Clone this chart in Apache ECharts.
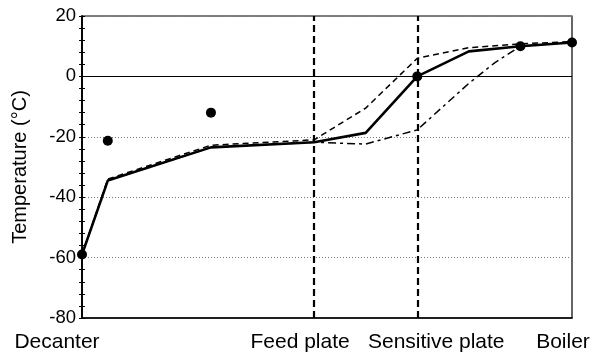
<!DOCTYPE html>
<html>
<head>
<meta charset="utf-8">
<script src="https://cdn.jsdelivr.net/npm/echarts@6/dist/echarts.min.js"></script>
<style>
  html, body { margin: 0; padding: 0; background: #fff; }
  #chart { width: 593px; height: 354px; }
</style>
</head>
<body>
<div id="chart"></div>
<script>
// Column stages, counted from the decanter (0) to the boiler (19)
const stageLabels = { 0: 'Decanter', 9: 'Feed plate', 13: 'Sensitive plate', 19: 'Boiler' };
const feedStage = 9;
const sensitiveStage = 13;

// Nominal temperature profile (solid)
const nominalStages = [0, 1, 5, 9, 11, 13, 15, 17, 19];
const nominalTemps  = [-59, -34.5, -23.5, -21.8, -18.7, 0, 8.3, 10, 11.2];

// Profile shifted towards the top (dashed)
const upperStages = [0, 1, 5, 9, 11, 13, 15, 17, 19];
const upperTemps  = [-59, -34, -22.8, -21, -10.5, 6, 9.5, 10.8, 11.5];

// Profile shifted towards the bottom (dash-dot)
const lowerStages = [0, 1, 5, 9, 11, 13, 14, 15, 16, 17, 19];
const lowerTemps  = [-59, -34.5, -23.5, -21.8, -22.4, -17.7, -10, -2.3, 4.5, 10, 11.3];

// Measured temperatures
const measuredStages = [0, 1, 5, 13, 17, 19];
const measuredTemps  = [-59, -21.3, -12, 0, 10, 11.2];

const yTicks = [-80, -60, -40, -20, 0, 20];

const zip = (xs, ys) => xs.map((x, i) => [x, ys[i]]);
const font = 'Liberation Sans, Arial, Helvetica, sans-serif';
const stageFont = 21;

const chart = echarts.init(document.getElementById('chart'));

const yBase = {
  type: 'value',
  min: yTicks[0],
  max: yTicks[yTicks.length - 1],
  interval: 20,
  axisLine: { show: true, onZero: false, lineStyle: { color: '#000', width: 1.5 } }
};

const stageStyle = pad => ({ fontFamily: font, fontSize: stageFont, color: '#000', padding: pad });

chart.setOption({
  animation: false,
  backgroundColor: '#fff',
  grid: {
    left: 82, right: 21, top: 16, bottom: 36,
    show: true, borderColor: '#000', borderWidth: 1.2, backgroundColor: 'transparent'
  },
  xAxis: {
    type: 'value',
    min: 0, max: 19, interval: 1,
    axisLine: { show: true, onZero: false, lineStyle: { color: '#000', width: 1.5 } },
    axisTick: { show: false },
    splitLine: { show: false },
    axisLabel: {
      showMinLabel: true, showMaxLabel: true,
      margin: 14,
      color: '#000', fontFamily: font, fontSize: stageFont,
      formatter: v => {
        const name = stageLabels[v];
        if (!name) return '';
        const key = { 0: 'dec', 9: 'feed', 13: 'sens', 19: 'boil' }[v];
        return '{' + key + '|' + name + '}';
      },
      rich: {
        dec:  stageStyle([0, 50, 0, 0]),
        feed: stageStyle([0, 28, 0, 0]),
        sens: stageStyle([0, 0, 0, 38]),
        boil: stageStyle([0, 18, 0, 0])
      }
    }
  },
  yAxis: [
    Object.assign({}, yBase, {
      name: 'Temperature (°C)',
      nameLocation: 'middle',
      nameGap: 52,
      nameTextStyle: { color: '#000', fontFamily: font, fontSize: 20 },
      axisTick: { show: true, inside: false, length: 3, lineStyle: { color: '#000' } },
      minorTick: { show: true, splitNumber: 5, length: 3, lineStyle: { color: '#000' } },
      axisLabel: { color: '#000', fontFamily: font, fontSize: 18.5, margin: 6 },
      splitLine: { show: true, lineStyle: { color: '#777', type: [1, 2], width: 1 } }
    }),
    // overlay axis carrying the inner half of the tick marks
    Object.assign({}, yBase, {
      position: 'left',
      axisTick: { show: true, inside: true, length: 3, lineStyle: { color: '#000' } },
      minorTick: { show: true, splitNumber: 5, length: 3, lineStyle: { color: '#000' } },
      axisLabel: { show: false },
      splitLine: { show: false }
    })
  ],
  series: [
    {
      name: 'Nominal',
      type: 'line',
      data: zip(nominalStages, nominalTemps),
      symbol: 'none',
      lineStyle: { color: '#000', width: 2.6 },
      z: 4,
      markLine: {
        silent: true,
        symbol: 'none',
        label: { show: false },
        data: [
          { yAxis: 0, lineStyle: { color: '#000', width: 1.2, type: 'solid' } },
          { xAxis: feedStage, lineStyle: { color: '#000', width: 2.2, type: [7, 4] } },
          { xAxis: sensitiveStage, lineStyle: { color: '#000', width: 2.2, type: [7, 4] } }
        ]
      }
    },
    {
      name: 'Upper',
      type: 'line',
      data: zip(upperStages, upperTemps),
      symbol: 'none',
      lineStyle: { color: '#000', width: 1.5, type: [6, 4] },
      z: 3
    },
    {
      name: 'Lower',
      type: 'line',
      data: zip(lowerStages, lowerTemps),
      symbol: 'none',
      lineStyle: { color: '#000', width: 1.5, type: [8, 4, 3, 4] },
      z: 3
    },
    {
      name: 'Measured',
      type: 'scatter',
      data: zip(measuredStages, measuredTemps),
      symbol: 'circle',
      symbolSize: 10,
      clip: false,
      itemStyle: { color: '#000', opacity: 1 },
      z: 5
    }
  ]
});
</script>
</body>
</html>
